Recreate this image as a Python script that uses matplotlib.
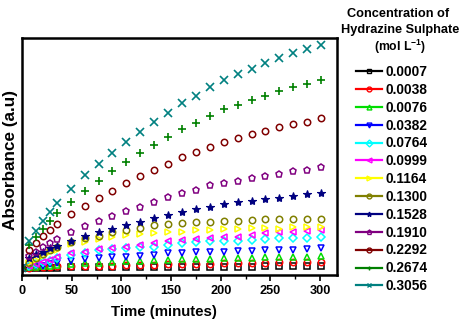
import matplotlib
matplotlib.use("Agg")
import matplotlib.pyplot as plt
from matplotlib.lines import Line2D

plt.rcParams['font.family'] = ['Liberation Sans', 'DejaVu Sans']
plt.rcParams['font.weight'] = 'bold'
plt.rcParams['mathtext.fontset'] = 'custom'
plt.rcParams['mathtext.rm'] = 'Liberation Sans:bold'
plt.rcParams['mathtext.bf'] = 'Liberation Sans:bold'

time_min = [0, 7, 14, 21, 28, 35, 49, 63, 77, 91, 105, 119, 133, 147, 161, 175,
            189, 203, 217, 231, 245, 259, 273, 287, 301]

concentrations = ["0.0007", "0.0038", "0.0076", "0.0382", "0.0764", "0.0999", "0.1164",
                  "0.1300", "0.1528", "0.1910", "0.2292", "0.2674", "0.3056"]

abs_0007 = [0.028, 0.029, 0.030, 0.030, 0.031, 0.031, 0.032, 0.032, 0.032, 0.033, 0.033, 0.033, 0.034,
            0.034, 0.034, 0.034, 0.035, 0.035, 0.035, 0.035, 0.036, 0.036, 0.036, 0.036, 0.037]
abs_0038 = [0.030, 0.031, 0.032, 0.033, 0.034, 0.036, 0.037, 0.038, 0.039, 0.040, 0.042, 0.043, 0.044,
            0.046, 0.046, 0.047, 0.048, 0.049, 0.050, 0.050, 0.052, 0.053, 0.054, 0.055, 0.056]
abs_0076 = [0.030, 0.032, 0.034, 0.036, 0.038, 0.042, 0.046, 0.049, 0.052, 0.056, 0.060, 0.061, 0.063,
            0.065, 0.066, 0.068, 0.069, 0.070, 0.070, 0.073, 0.075, 0.075, 0.076, 0.077, 0.080]
abs_0382 = [0.030, 0.033, 0.037, 0.040, 0.045, 0.049, 0.060, 0.066, 0.070, 0.075, 0.077, 0.080, 0.084,
            0.092, 0.094, 0.096, 0.097, 0.098, 0.100, 0.103, 0.104, 0.105, 0.107, 0.108, 0.113]
abs_0764 = [0.030, 0.040, 0.045, 0.055, 0.060, 0.070, 0.084, 0.092, 0.105, 0.108, 0.113, 0.118, 0.120,
            0.127, 0.136, 0.141, 0.143, 0.143, 0.145, 0.148, 0.151, 0.155, 0.155, 0.155, 0.159]
abs_0999 = [0.030, 0.040, 0.045, 0.055, 0.062, 0.075, 0.092, 0.098, 0.110, 0.115, 0.120, 0.127, 0.134,
            0.145, 0.148, 0.151, 0.155, 0.159, 0.162, 0.169, 0.176, 0.180, 0.183, 0.187, 0.190]
abs_1164 = [0.030, 0.050, 0.065, 0.080, 0.095, 0.105, 0.131, 0.141, 0.151, 0.162, 0.169, 0.173, 0.179,
            0.183, 0.183, 0.188, 0.190, 0.194, 0.194, 0.197, 0.199, 0.196, 0.201, 0.201, 0.201]
abs_1300 = [0.030, 0.050, 0.070, 0.090, 0.105, 0.120, 0.141, 0.155, 0.165, 0.183, 0.190, 0.200, 0.211,
            0.215, 0.221, 0.225, 0.225, 0.228, 0.229, 0.232, 0.235, 0.235, 0.236, 0.236, 0.236]
abs_1528 = [0.030, 0.070, 0.089, 0.098, 0.113, 0.122, 0.145, 0.165, 0.181, 0.195, 0.211, 0.225, 0.239,
            0.253, 0.266, 0.277, 0.288, 0.300, 0.307, 0.314, 0.319, 0.324, 0.333, 0.342, 0.347]
abs_1910 = [0.030, 0.080, 0.098, 0.120, 0.136, 0.151, 0.183, 0.207, 0.229, 0.250, 0.270, 0.288, 0.307,
            0.328, 0.345, 0.359, 0.378, 0.387, 0.398, 0.408, 0.418, 0.426, 0.437, 0.443, 0.454]
abs_2292 = [0.030, 0.105, 0.136, 0.165, 0.190, 0.215, 0.257, 0.293, 0.326, 0.356, 0.387, 0.418, 0.443,
            0.468, 0.497, 0.518, 0.541, 0.561, 0.579, 0.594, 0.606, 0.623, 0.637, 0.646, 0.661]
abs_2674 = [0.030, 0.125, 0.159, 0.193, 0.229, 0.260, 0.309, 0.353, 0.398, 0.440, 0.477, 0.514, 0.547,
            0.584, 0.615, 0.643, 0.672, 0.699, 0.719, 0.738, 0.755, 0.775, 0.792, 0.805, 0.823]
abs_3056 = [0.030, 0.145, 0.186, 0.229, 0.267, 0.305, 0.363, 0.421, 0.468, 0.516, 0.562, 0.603, 0.646,
            0.685, 0.724, 0.757, 0.792, 0.823, 0.848, 0.870, 0.893, 0.914, 0.938, 0.952, 0.970]

series = [abs_0007, abs_0038, abs_0076, abs_0382, abs_0764, abs_0999, abs_1164,
          abs_1300, abs_1528, abs_1910, abs_2292, abs_2674, abs_3056]

colors = ["#000000", "#ff0000", "#00dd00", "#0000ff", "#00ffff", "#ff00ff", "#ffff00",
          "#808000", "#000080", "#800080", "#800000", "#008000", "#008080"]
markers = ["s", "o", "^", "v", "D", "<", ">", "o", "*", "p", "o", "+", "x"]

fig = plt.figure(figsize=(4.61, 3.19), dpi=100)
ax = fig.add_axes([22 / 461, 1 - 275 / 319, (337 - 22) / 461, (275 - 38) / 319])

handles = []
for vals, c, m, lab in zip(series, colors, markers, concentrations):
    if m == "*":
        ax.plot(time_min, vals, linestyle="none", marker=m, markersize=6,
                color=c, markerfacecolor=c, markeredgewidth=0.8)
    elif m in ("+", "x"):
        ax.plot(time_min, vals, linestyle="none", marker=m, markersize=6,
                color=c, markeredgewidth=1.2)
    else:
        ms = 4.0 if m == "D" else 4.6
        ax.plot(time_min, vals, linestyle="none", marker=m, markersize=ms,
                color=c, markerfacecolor="none", markeredgewidth=1.1)
    h = Line2D([0], [0], color=c, lw=1.6, marker=m, markersize=3.5,
               markerfacecolor=("none" if m not in ("*", "+", "x") else c),
               markeredgewidth=1.0)
    handles.append(h)

ax.set_xlim(0, 317)
ax.set_ylim(0, 1.0)
ax.set_xticks([0, 50, 100, 150, 200, 250, 300])
ax.set_xticks([25, 75, 125, 175, 225, 275], minor=True)
ax.set_yticks([])
ax.tick_params(axis="x", which="major", direction="out", length=4, width=1.2,
               labelsize=9.2, pad=3)
ax.tick_params(axis="x", which="minor", direction="out", length=3, width=1.0)
for lbl in ax.get_xticklabels():
    lbl.set_fontweight("bold")
for s in ax.spines.values():
    s.set_linewidth(1.8)

fig.text(164 / 461, 1 - 316 / 319, "Time (minutes)", ha="center", va="baseline",
         fontsize=10.8, fontweight="bold")
fig.text(11 / 461, 1 - 160 / 319, "Absorbance (a.u)", ha="center", va="center",
         rotation=90, fontsize=12.3, fontweight="bold")

fig.text(398 / 461, 1 - 14 / 319, "Concentration of", ha="center", va="center",
         fontsize=9.2, fontweight="bold")
fig.text(400 / 461, 1 - 30 / 319, "Hydrazine Sulphate", ha="center", va="center",
         fontsize=9.2, fontweight="bold")
fig.text(400 / 461, 1 - 47 / 319, r"(mol L$^{\mathbf{-1}}$)", ha="center", va="center",
         fontsize=8.8, fontweight="bold")

leg = fig.legend(handles, concentrations, loc="upper left",
                 bbox_to_anchor=(356 / 461, 1 - 65 / 319), frameon=False,
                 prop={"size": 9.9, "weight": "bold"}, handlelength=1.9,
                 handletextpad=0.22, labelspacing=0.28, borderpad=0, borderaxespad=0)

fig.savefig("out.png", dpi=100)
